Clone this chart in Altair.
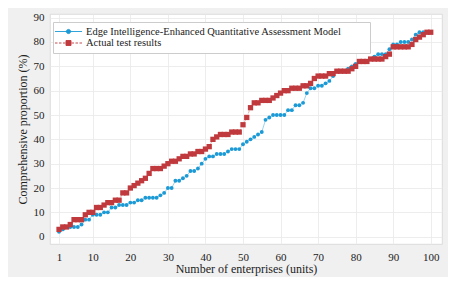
import altair as alt
import pandas as pd

enterprises = list(range(1, 101))

model_values = [
    2, 3, 4, 4, 4, 4, 5, 7, 7, 9,
    9, 9, 10, 10, 12, 12, 13, 13, 13, 14,
    14, 15, 15, 16, 16, 16, 16, 17, 18, 20,
    20, 23, 23, 24, 25, 27, 27, 28, 30, 32,
    33, 33, 34, 34, 34, 35, 36, 36, 36, 38,
    39, 40, 41, 42, 43, 48, 49, 50, 50, 50,
    50, 52, 52, 54, 54, 55, 59, 61, 61, 62,
    62, 63, 64, 66, 68, 68, 68, 69, 70, 71,
    72, 72, 72, 73, 74, 75, 75, 75, 77, 79,
    79, 80, 80, 80, 81, 83, 84, 84, 84, 84,
]

actual_values = [
    3, 4, 4, 5, 7, 7, 7, 9, 10, 10,
    12, 12, 13, 14, 14, 15, 15, 18, 18, 20,
    21, 22, 23, 24, 26, 28, 28, 28, 29, 30,
    31, 31, 32, 33, 33, 34, 34, 35, 35, 36,
    37, 40, 41, 42, 42, 42, 43, 43, 43, 46,
    49, 53, 55, 55, 56, 56, 56, 57, 58, 59,
    60, 60, 61, 61, 61, 62, 62, 63, 65, 66,
    66, 66, 67, 67, 68, 68, 68, 68, 69, 70,
    72, 72, 72, 73, 73, 73, 73, 74, 75, 78,
    78, 78, 78, 78, 79, 81, 82, 83, 84, 84,
]

series_names = [
    "Edge Intelligence-Enhanced Quantitative Assessment Model",
    "Actual test results",
]
x_ticks = [1, 10, 20, 30, 40, 50, 60, 70, 80, 90, 100]
y_ticks = [0, 10, 20, 30, 40, 50, 60, 70, 80, 90]

BLUE = "#1b9ad6"
RED = "#c0393d"
FONT = "Liberation Serif"

df = pd.DataFrame({
    "x": enterprises + enterprises,
    "y": model_values + actual_values,
    "series": [series_names[0]] * len(model_values) + [series_names[1]] * len(actual_values),
})

x_enc = alt.X(
    "x:Q",
    scale=alt.Scale(domain=[-1.4, 103], nice=False, zero=False),
    axis=alt.Axis(values=x_ticks, title="Number of enterprises (units)",
                  ticks=False, domain=False, labelPadding=7, titlePadding=1),
)
y_enc = alt.Y(
    "y:Q",
    scale=alt.Scale(domain=[-3, 91.5], nice=False, zero=False),
    axis=alt.Axis(values=y_ticks, title="Comprehensive proportion (%)",
                  ticks=False, domain=False, labelPadding=6, titlePadding=4),
)

base = alt.Chart(df)
blue = base.transform_filter(alt.datum.series == series_names[0])
red = base.transform_filter(alt.datum.series == series_names[1])

blue_line = blue.mark_line(color=BLUE, strokeWidth=0.8, opacity=0.55).encode(x=x_enc, y=y_enc)
blue_pts = blue.mark_circle(color=BLUE, size=15, opacity=1).encode(x=x_enc, y=y_enc)
red_line = red.mark_line(color=RED, strokeWidth=0.8, strokeDash=[3, 2], opacity=0.5).encode(x=x_enc, y=y_enc)
red_pts = red.mark_square(color=RED, size=28, opacity=1).encode(x=x_enc, y=y_enc)

blue_sym = "M-2.7,0H2.7M-0.42,0A0.42,0.42,0,1,0,0.42,0A0.42,0.42,0,1,0,-0.42,0Z"
red_sym = ("M-2.7,0H-2.2M-1.9,0H-1.4M-1.1,0H-0.6M0.6,0H1.1M1.4,0H1.9M2.2,0H2.7"
           "M-0.5,-0.5H0.5V0.5H-0.5Z")

pad_chars = "\u2800" * 3

legend = alt.Legend(
    title=None, orient="none", legendX=3, legendY=8, padding=4,
    fillColor="white", strokeColor="#cccccc", cornerRadius=0,
    labelFont=FONT, labelFontSize=10.5, labelColor="#222222", labelLimit=600,
    rowPadding=0.5, symbolSize=100, symbolStrokeWidth=0.9,
    symbolOffset=6, labelOffset=12,
    labelExpr="datum.label + '" + pad_chars + "'",
)

legend_layer = base.transform_filter("false").mark_point(filled=True, opacity=1).encode(
    x=x_enc, y=y_enc,
    fill=alt.Fill("series:N", scale=alt.Scale(domain=series_names, range=[BLUE, RED]), legend=legend),
    stroke=alt.Stroke("series:N", scale=alt.Scale(domain=series_names, range=[BLUE, RED]), legend=legend),
    shape=alt.Shape("series:N", scale=alt.Scale(domain=series_names, range=[blue_sym, red_sym]), legend=legend),
)

chart = alt.layer(blue_line, red_line, blue_pts, red_pts, legend_layer).properties(
    width=392, height=230,
    autosize=alt.AutoSizeParams(type="none"),
    padding={"left": 42, "top": 6, "right": 6, "bottom": 33},
    background="#f0f0f0",
).configure_view(
    fill="white", stroke="#d4d4d4", strokeWidth=0.8,
).configure_axis(
    labelFont=FONT, labelFontSize=11, labelColor="#222222",
    titleFont=FONT, titleFontSize=12, titleColor="#222222", titleFontWeight="normal",
    gridColor="#e8e8e8", gridWidth=0.8,
).configure_legend(
    labelFont=FONT, labelLimit=600,
)

chart.save("out.html", embed_options={"renderer": "svg", "actions": False})
